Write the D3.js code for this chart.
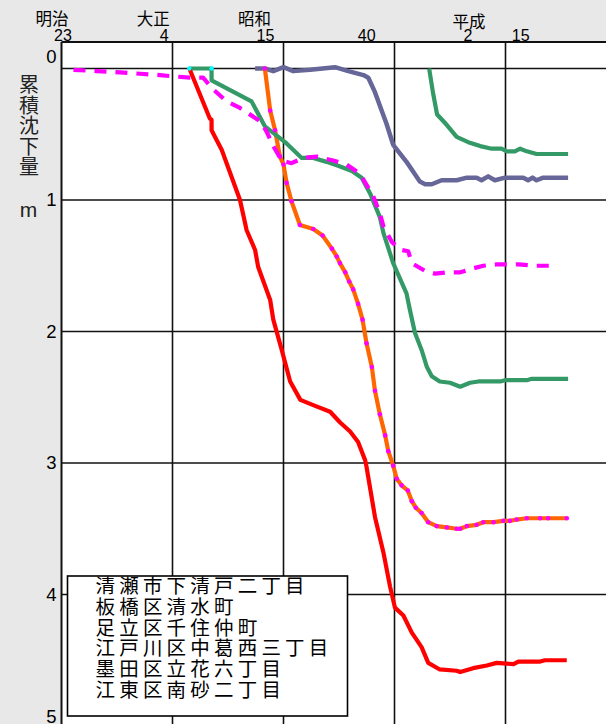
<!DOCTYPE html>
<html><head><meta charset="utf-8">
<script src="https://cdn.jsdelivr.net/npm/d3@7"></script>
<style>html,body{margin:0;padding:0;background:#e8e8e8;} svg{display:block}</style>
</head><body><svg id="c" width="606" height="724"></svg>
<script>
// ---- data ----
const seriesNames = ["清瀬市下清戸二丁目","板橋区清水町","足立区千住仲町","江戸川区中葛西三丁目","墨田区立花六丁目","江東区南砂二丁目"];
const tickYears = [1890,1915,1940,1965,1990,2003];
const tickNums  = ["23","4","15","40","2","15"];
const eraNames  = ["明治","大正","昭和","","平成",""];
const gridYears = [1915,1940,1965,1990];
const yTicks = [0,1,2,3,4,5];
const yTitle = "累積沈下量";
const yUnit = "m";

const kiyose = [[1972.8,0.00],[1973.7,0.19],[1974.6,0.35],[1976.8,0.43],[1979.0,0.52],[1981.6,0.56],[1984.3,0.59],[1986.9,0.61],[1989.1,0.61],[1990.3,0.63],[1992.1,0.63],[1993.3,0.61],[1994.8,0.63],[1997.0,0.65],[2004.1,0.65]];
const itabashi = [[1933.6,0.00],[1935.8,0.00],[1937.7,0.02],[1940.0,-0.01],[1942.2,0.02],[1946.0,0.01],[1951.6,-0.01],[1954.6,0.02],[1958.0,0.05],[1959.1,0.07],[1960.6,0.18],[1962.1,0.32],[1963.2,0.42],[1964.7,0.58],[1967.7,0.71],[1970.7,0.86],[1971.9,0.88],[1973.4,0.88],[1975.6,0.85],[1979.0,0.85],[1981.3,0.83],[1983.5,0.83],[1984.6,0.85],[1986.1,0.82],[1987.6,0.85],[1989.9,0.83],[1994.0,0.83],[1995.1,0.85],[1996.1,0.83],[1997.0,0.85],[1998.5,0.83],[2004.1,0.83]];
const adachi = [[1918.8,0.00],[1923.8,0.00],[1923.8,0.09],[1932.8,0.25],[1935.8,0.44],[1937.7,0.49],[1940.7,0.57],[1944.1,0.68],[1946.7,0.68],[1949.7,0.71],[1952.3,0.74],[1955.4,0.78],[1957.6,0.83],[1959.5,0.95],[1961.7,1.13],[1962.5,1.25],[1964.7,1.48],[1967.7,1.71],[1968.5,1.84],[1969.6,2.01],[1971.1,2.14],[1972.3,2.27],[1973.4,2.34],[1975.2,2.38],[1977.5,2.39],[1979.8,2.42],[1982.0,2.39],[1983.9,2.38],[1988.8,2.38],[1989.9,2.37],[1994.8,2.37],[1995.9,2.36],[2004.1,2.36]];
const adachiStart = [[1918.8,0.00],[1923.8,0.00]];
const edogawa = [[1935.8,0.00],[1937.0,0.32],[1938.1,0.47],[1939.2,0.67],[1940.0,0.73],[1940.7,0.87],[1941.8,1.01],[1943.7,1.19],[1946.7,1.22],[1948.8,1.27],[1950.9,1.37],[1952.0,1.43],[1952.7,1.48],[1953.9,1.55],[1954.8,1.62],[1955.7,1.68],[1956.8,1.79],[1957.8,1.91],[1958.7,2.09],[1959.9,2.27],[1960.6,2.45],[1961.7,2.63],[1962.9,2.79],[1963.6,2.91],[1964.7,3.02],[1965.5,3.12],[1966.6,3.17],[1968.0,3.21],[1968.9,3.29],[1969.8,3.34],[1971.1,3.38],[1972.6,3.45],[1974.5,3.48],[1976.8,3.49],[1979.0,3.50],[1979.8,3.50],[1981.3,3.48],[1983.5,3.47],[1985.0,3.45],[1987.3,3.45],[1989.5,3.44],[1991.0,3.44],[1992.5,3.43],[1994.8,3.42],[1997.8,3.42],[1999.6,3.42],[2003.8,3.42]];
const sumida = [[1892.7,0.01],[1897.9,0.02],[1903.2,0.03],[1907.7,0.04],[1912.2,0.05],[1915.2,0.06],[1918.9,0.07],[1921.9,0.07],[1924.2,0.16],[1927.2,0.25],[1930.2,0.30],[1934.7,0.40],[1936.2,0.48],[1937.7,0.59],[1939.6,0.70],[1941.8,0.72],[1944.5,0.68],[1947.5,0.67],[1951.2,0.70],[1954.2,0.73],[1957.2,0.80],[1960.2,0.97],[1961.7,1.10],[1962.5,1.20],[1964.4,1.32],[1966.6,1.38],[1968.1,1.39],[1968.9,1.48],[1971.9,1.54],[1974.1,1.56],[1976.8,1.55],[1979.8,1.55],[1982.7,1.52],[1985.0,1.50],[1988.0,1.49],[1992.9,1.49],[1996.6,1.50],[2001.5,1.50]];
const koto = [[1918.8,0.00],[1923.4,0.38],[1923.8,0.39],[1923.8,0.47],[1926.1,0.62],[1930.2,1.00],[1931.7,1.23],[1933.6,1.38],[1934.3,1.51],[1937.0,1.76],[1937.7,1.91],[1939.6,2.14],[1941.5,2.38],[1943.8,2.52],[1946.7,2.56],[1950.5,2.61],[1952.7,2.69],[1955.0,2.76],[1956.8,2.84],[1958.4,2.98],[1958.7,3.03],[1960.6,3.41],[1962.5,3.68],[1964.0,3.94],[1965.1,4.10],[1967.0,4.16],[1968.9,4.29],[1971.1,4.40],[1972.6,4.52],[1975.2,4.57],[1979.0,4.58],[1979.8,4.59],[1982.7,4.56],[1985.8,4.54],[1988.0,4.52],[1991.8,4.53],[1992.9,4.51],[1997.8,4.51],[1998.9,4.50],[2003.8,4.50]];

// ---- layout ----
const W = 606, H = 724;
const pLeft = 61.5, pTop = 42;
const x = d3.scaleLinear().domain([1890, 1990]).range([pLeft, 505.5]);
const y = d3.scaleLinear().domain([0, 5]).range([68.5, 726]);
const xLab = d3.scaleLinear().domain([1890, 1990]).range([63, 468]);
const svg = d3.select("#c");
const CJK = "'Noto Sans CJK JP','Noto Sans',sans-serif";
const LAT = "'Liberation Sans',Arial,sans-serif";

svg.append("rect").attr("x", pLeft).attr("y", pTop).attr("width", W - pLeft).attr("height", H - pTop).attr("fill", "#fff");

const grid = svg.append("g").attr("stroke", "#111").attr("stroke-width", 1.6);
grid.selectAll(".h").data(yTicks.filter(v => v < 5)).join("line")
  .attr("x1", pLeft).attr("x2", W).attr("y1", d => y(d)).attr("y2", d => y(d));
grid.selectAll(".v").data(gridYears).join("line")
  .attr("y1", pTop).attr("y2", H).attr("x1", d => x(d)).attr("x2", d => x(d));
grid.append("line").attr("x1", pLeft).attr("x2", W).attr("y1", pTop).attr("y2", pTop).attr("stroke-width", 2);
grid.append("line").attr("x1", pLeft).attr("x2", pLeft).attr("y1", pTop).attr("y2", H).attr("stroke-width", 2);

// top labels
svg.selectAll(".num").data(tickYears).join("text")
  .attr("x", d => xLab(d)).attr("y", 40.5).attr("text-anchor", "middle")
  .attr("font-family", LAT).attr("font-size", 16).attr("fill", "#000")
  .text((d, i) => tickNums[i]);
svg.selectAll(".era").data(tickYears.filter((d, i) => eraNames[i])).join("text")
  .attr("x", d => xLab(d) + (eraNames[tickYears.indexOf(d)] === "平成" ? 1 : -11))
  .attr("y", d => eraNames[tickYears.indexOf(d)] === "平成" ? 28 : 25)
  .attr("text-anchor", "middle").attr("font-family", CJK).attr("font-size", 16.5).attr("fill", "#000")
  .text(d => eraNames[tickYears.indexOf(d)]);

// y tick labels
svg.selectAll(".yt").data(yTicks).join("text")
  .attr("x", 56.5).attr("text-anchor", "end")
  .attr("y", d => (d === 0 ? (pTop + y(0)) / 2 + 1.5 : Math.min(y(d), H - 7)) + 6.4)
  .attr("font-family", LAT).attr("font-size", 18.5).attr("fill", "#000")
  .text(d => d);

// y title
svg.selectAll(".yc").data(Array.from(yTitle)).join("text")
  .attr("x", 29).attr("y", (d, i) => 85 + i * 20.5 + 7).attr("text-anchor", "middle")
  .attr("font-family", CJK).attr("font-size", 20).attr("fill", "#222").text(d => d);
svg.append("text").attr("x", 28.5).attr("y", 217).attr("text-anchor", "middle")
  .attr("font-family", LAT).attr("font-size", 21).attr("fill", "#222").text(yUnit);

// lines
const line = d3.line().x(d => x(d[0])).y(d => y(d[1]));
const plot = svg.append("g").attr("fill", "none").attr("stroke-linejoin", "round").attr("stroke-width", 4.2);
plot.append("path").datum(kiyose).attr("d", line).attr("stroke", "#339966");
plot.append("path").datum(itabashi).attr("d", line).attr("stroke", "#666699").attr("stroke-width", 4.5);
plot.append("path").datum(edogawa).attr("d", line).attr("stroke", "#ff6600");
plot.append("path").datum(adachi).attr("d", line).attr("stroke", "#339966");
plot.append("path").datum(sumida).attr("d", line).attr("stroke", "#ff00ff").attr("stroke-dasharray", "12,9");
plot.append("path").datum(koto).attr("d", line).attr("stroke", "#ff0000");

svg.selectAll(".ed").data(edogawa).join("circle")
  .attr("cx", d => x(d[0])).attr("cy", d => y(d[1])).attr("r", 2.3).attr("fill", "#ff00ff");
svg.selectAll(".ad").data(adachiStart).join("circle")
  .attr("cx", d => x(d[0])).attr("cy", d => y(d[1])).attr("r", 2.2).attr("fill", "#00ffff");

// legend
const lg = svg.append("g");
lg.append("rect").attr("x", 67.5).attr("y", 576).attr("width", 280).attr("height", 140)
  .attr("fill", "#fff").attr("stroke", "#000").attr("stroke-width", 1.6);
lg.selectAll("text").data(seriesNames).join("text")
  .attr("x", 95.5).attr("y", (d, i) => 586 + i * 20.8 + 7)
  .attr("font-family", CJK).attr("font-size", 19.5).attr("letter-spacing", 4.2).attr("fill", "#000")
  .text(d => d);
</script></body></html>
